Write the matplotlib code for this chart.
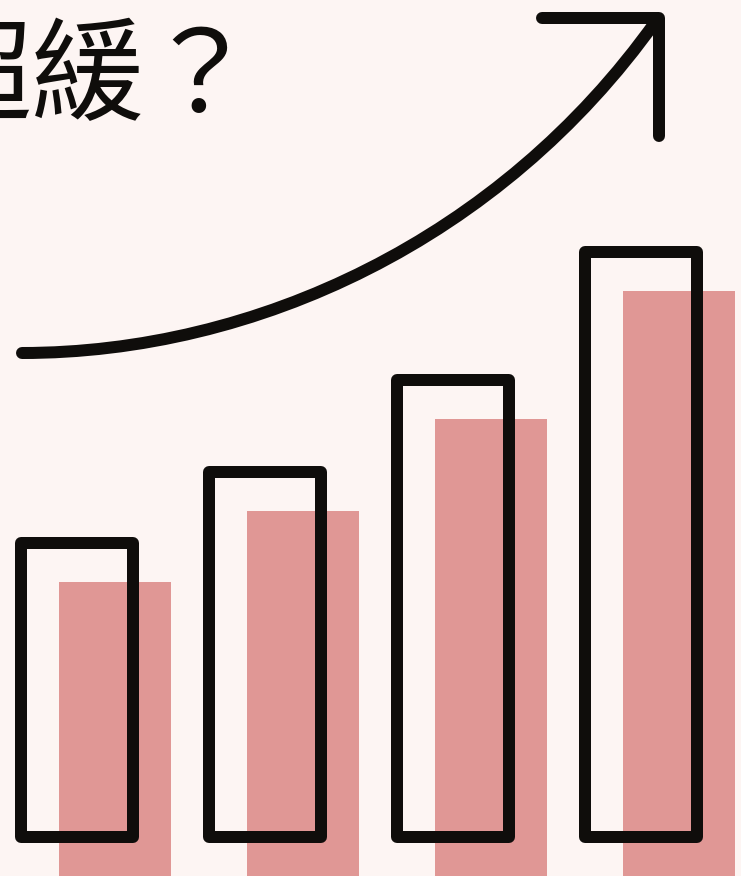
import matplotlib
matplotlib.use("Agg")
import matplotlib.pyplot as plt
from matplotlib.path import Path
from matplotlib.patches import PathPatch

# bar values (same series drawn twice: filled bar + offset outline)
categories = ["Q1", "Q2", "Q3", "Q4"]
values = [294, 365, 457, 585]
title_text = "超緩？"

bg = "#fdf5f3"
pink = "#e09795"
ink = "#0f0d0b"

fig = plt.figure(figsize=(7.41, 8.76), dpi=100, facecolor=bg)

# main axes in category units
ax = fig.add_axes([0, 0, 1, 1])
ax.set_facecolor(bg)
ax.set_xlim(-0.510, 3.431)
ax.set_ylim(0, 876)
ax.axis("off")

x = list(range(len(categories)))
lw = 12 * 72 / 100  # ~12px stroke

ax.bar([i + 0.1017 for i in x], values, width=0.596, color=pink, zorder=1)
outl = ax.bar([i - 0.1017 for i in x], values, width=0.593, bottom=39.5,
              fill=False, edgecolor=ink, linewidth=lw, zorder=2)
for p in outl:
    p.set_joinstyle("round")

# overlay in pixel coords for the arrow and title
ov = fig.add_axes([0, 0, 1, 1])
ov.set_xlim(0, 741)
ov.set_ylim(876, 0)
ov.axis("off")
ov.patch.set_alpha(0)

curve = Path([(22, 353), (255, 353), (500, 240), (656, 21)],
             [Path.MOVETO, Path.CURVE4, Path.CURVE4, Path.CURVE4])
ov.add_patch(PathPatch(curve, fill=False, edgecolor=ink, lw=lw,
                       capstyle="round", zorder=3))
ov.plot([542, 658.5, 658.5], [18, 18, 136], color=ink, lw=lw,
        solid_capstyle="round", solid_joinstyle="round", zorder=3)

ov.text(-80, 80, title_text, fontsize=81, color=ink, ha="left", va="center",
        family=["Noto Sans CJK TC", "DejaVu Sans"], clip_on=False)

fig.savefig("out.png", dpi=100, facecolor=bg)
